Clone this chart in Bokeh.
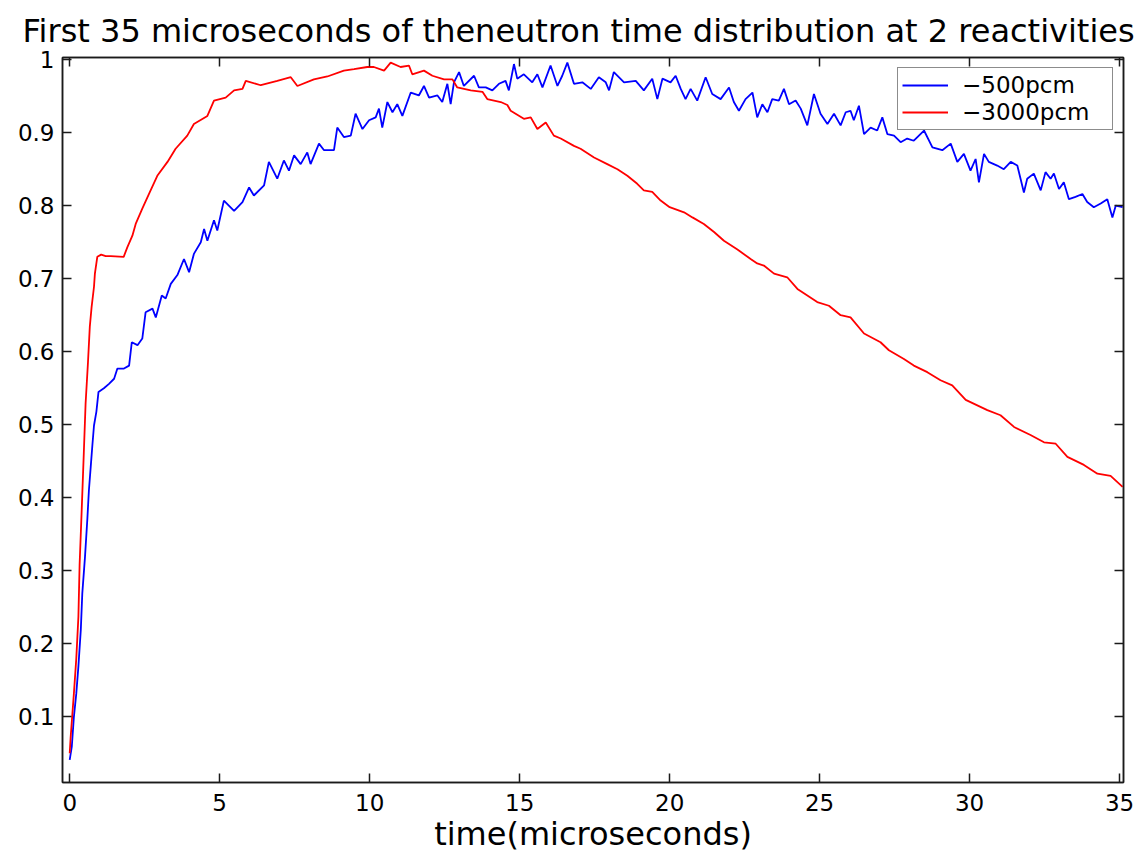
from bokeh.plotting import figure
from bokeh.models import (Range1d, FixedTicker, LinearAxis, CustomJSTickFormatter,
                          Legend, LegendItem)
from bokeh.embed import file_html
from bokeh.resources import INLINE

# ---------------- data ----------------
title_text = "First 35 microseconds of theneutron time distribution at 2 reactivities"
x_label = "time(microseconds)"
series_labels = ["\u2212500pcm", "\u22123000pcm"]
x_ticks = [0, 5, 10, 15, 20, 25, 30, 35]
y_ticks = [0.1, 0.2, 0.3, 0.4, 0.5, 0.6, 0.7, 0.8, 0.9, 1.0]

t_500 = [0.00, 0.07, 0.14, 0.22, 0.29, 0.37, 0.42, 0.51, 0.59, 0.64, 0.70, 0.76, 0.81, 0.89, 0.96,
         1.14, 1.31, 1.48, 1.59, 1.81, 1.98, 2.07, 2.26, 2.42, 2.53, 2.76, 2.87, 3.07, 3.20, 3.37,
         3.59, 3.81, 3.98, 4.14, 4.37, 4.48, 4.59, 4.81, 4.92, 5.14, 5.48, 5.76, 5.98, 6.14, 6.48,
         6.64, 6.92, 7.14, 7.31, 7.48, 7.70, 7.92, 8.03, 8.31, 8.48, 8.81, 8.92, 9.14, 9.37, 9.53,
         9.76, 9.98, 10.20, 10.31, 10.42, 10.59, 10.76, 10.92, 11.09, 11.37, 11.64, 11.81, 11.98,
         12.26, 12.42, 12.59, 12.70, 12.81, 12.98, 13.14, 13.48, 13.64, 13.87, 14.09, 14.31, 14.53,
         14.64, 14.81, 14.92, 15.14, 15.42, 15.59, 15.76, 16.03, 16.26, 16.42, 16.59, 16.81, 17.09,
         17.37, 17.64, 17.87, 17.98, 18.14, 18.48, 18.87, 19.14, 19.42, 19.59, 19.76, 20.03, 20.20,
         20.37, 20.53, 20.70, 20.92, 21.20, 21.42, 21.70, 21.98, 22.14, 22.31, 22.53, 22.76, 22.92,
         23.09, 23.26, 23.42, 23.64, 23.81, 23.98, 24.20, 24.37, 24.59, 24.81, 25.03, 25.26, 25.48,
         25.70, 25.87, 26.03, 26.14, 26.31, 26.48, 26.70, 26.92, 27.09, 27.26, 27.48, 27.70, 27.92,
         28.14, 28.31, 28.48, 28.76, 29.09, 29.37, 29.59, 29.81, 30.03, 30.20, 30.31, 30.48, 30.64,
         30.92, 31.14, 31.37, 31.59, 31.81, 31.92, 32.14, 32.37, 32.53, 32.70, 32.81, 32.98, 33.14,
         33.31, 33.53, 33.76, 33.92, 34.14, 34.37, 34.59, 34.76, 34.87, 35.10]
v_500 = [0.041, 0.059, 0.100, 0.132, 0.169, 0.219, 0.269, 0.319, 0.372, 0.410, 0.442, 0.474, 0.499, 0.518, 0.545,
         0.550, 0.556, 0.563, 0.577, 0.577, 0.581, 0.613, 0.609, 0.618, 0.654, 0.659, 0.647, 0.677, 0.673, 0.693,
         0.705, 0.727, 0.709, 0.734, 0.750, 0.768, 0.752, 0.780, 0.766, 0.807, 0.793, 0.805, 0.825, 0.814, 0.828,
         0.860, 0.837, 0.862, 0.848, 0.869, 0.857, 0.873, 0.857, 0.885, 0.876, 0.876, 0.907, 0.894, 0.896, 0.926,
         0.905, 0.917, 0.921, 0.933, 0.907, 0.942, 0.928, 0.939, 0.923, 0.955, 0.951, 0.964, 0.948,
         0.951, 0.942, 0.967, 0.939, 0.969, 0.983, 0.964, 0.978, 0.962, 0.962, 0.958, 0.967, 0.971,
         0.958, 0.994, 0.974, 0.980, 0.969, 0.980, 0.962, 0.992, 0.964, 0.978, 0.996, 0.967, 0.969,
         0.960, 0.976, 0.969, 0.958, 0.983, 0.969, 0.971, 0.958, 0.974, 0.946, 0.974, 0.969, 0.978,
         0.960, 0.946, 0.960, 0.944, 0.976, 0.953, 0.946, 0.962, 0.942, 0.930, 0.946, 0.955, 0.921,
         0.939, 0.928, 0.946, 0.944, 0.960, 0.939, 0.944, 0.933, 0.910, 0.953, 0.926, 0.912, 0.926,
         0.910, 0.928, 0.930, 0.917, 0.937, 0.898, 0.907, 0.903, 0.921, 0.898, 0.896, 0.887, 0.892,
         0.889, 0.896, 0.903, 0.880, 0.876, 0.885, 0.860, 0.871, 0.848, 0.864, 0.832, 0.871, 0.860,
         0.855, 0.850, 0.860, 0.855, 0.818, 0.837, 0.844, 0.821, 0.846, 0.837, 0.844, 0.823, 0.832,
         0.809, 0.812, 0.816, 0.805, 0.798, 0.803, 0.809, 0.784, 0.800, 0.798]

t_3000 = [0.00, 0.03, 0.14, 0.22, 0.29, 0.33, 0.40, 0.47, 0.53, 0.61, 0.67, 0.73, 0.81, 0.84, 0.92,
          1.05, 1.20, 1.37, 1.80, 1.92, 2.09, 2.20, 2.42, 2.64, 2.92, 3.26, 3.53, 3.92, 4.14, 4.59,
          4.81, 5.20, 5.48, 5.76, 5.87, 6.37, 6.92, 7.37, 7.59, 8.14, 8.59, 9.14, 9.48, 9.92, 10.14,
          10.48, 10.70, 11.03, 11.31, 11.42, 11.81, 12.09, 12.48, 12.76, 12.92, 13.37, 13.76, 13.92,
          14.37, 14.59, 14.70, 15.14, 15.37, 15.59, 15.87, 16.14, 16.37, 16.81, 17.03, 17.48, 17.92,
          18.26, 18.59, 18.92, 19.14, 19.42, 19.70, 20.00, 20.48, 20.76, 21.14, 21.48, 21.81, 22.26,
          22.70, 22.92, 23.14, 23.48, 23.92, 24.26, 24.92, 25.31, 25.70, 26.03, 26.48, 27.03, 27.31,
          27.81, 28.14, 28.59, 29.03, 29.42, 29.87, 30.59, 31.03, 31.48, 32.03, 32.48, 32.87, 33.26,
          33.81, 34.26, 34.70, 35.10]
v_3000 = [0.050, 0.071, 0.132, 0.180, 0.237, 0.308, 0.383, 0.461, 0.529, 0.586, 0.634, 0.661, 0.689, 0.707, 0.730,
          0.733, 0.731, 0.731, 0.730, 0.743, 0.759, 0.775, 0.796, 0.816, 0.841, 0.860, 0.878, 0.896, 0.912, 0.923,
          0.944, 0.948, 0.958, 0.960, 0.971, 0.965, 0.971, 0.976, 0.964, 0.973, 0.977, 0.985, 0.987, 0.990, 0.990,
          0.985, 0.996, 0.990, 0.992, 0.980, 0.985, 0.978, 0.973, 0.973, 0.962, 0.958, 0.956, 0.946,
          0.942, 0.938, 0.930, 0.919, 0.921, 0.905, 0.914, 0.896, 0.892, 0.882, 0.878, 0.866, 0.857,
          0.850, 0.841, 0.830, 0.821, 0.819, 0.807, 0.798, 0.791, 0.784, 0.775, 0.764, 0.752, 0.740,
          0.727, 0.721, 0.718, 0.707, 0.702, 0.686, 0.668, 0.663, 0.650, 0.647, 0.625, 0.613, 0.602,
          0.590, 0.581, 0.572, 0.561, 0.554, 0.534, 0.520, 0.513, 0.497, 0.486, 0.476, 0.474, 0.456,
          0.445, 0.433, 0.430, 0.415]

# ---------------- figure ----------------
FONT = "DejaVu Sans"
AXIS_COLOR = "#1a1a1a"

p = figure(width=1140, height=855, output_backend="svg", toolbar_location=None,
           x_range=Range1d(-0.24, 35.13), y_range=Range1d(0.01, 1.003),
           min_border_left=62, min_border_right=17, min_border_top=57, min_border_bottom=68,
           background_fill_color="white", border_fill_color="white")

p.title.text = title_text
p.title.text_font = FONT
p.title.text_font_size = "32px"
p.title.text_font_style = "normal"
p.title.text_color = "black"
p.title.align = "left"
p.title.offset = -40
p.title.standoff = 16

p.xgrid.visible = False
p.ygrid.visible = False
p.outline_line_color = AXIS_COLOR
p.outline_line_width = 1.5

fmt = "return (Math.round(tick*10)/10).toString();"

for ax, ticks in ((p.xaxis[0], x_ticks), (p.yaxis[0], y_ticks)):
    ax.ticker = FixedTicker(ticks=ticks)
    ax.formatter = CustomJSTickFormatter(code=fmt)
    ax.major_tick_in = 9
    ax.major_tick_out = 0
    ax.minor_tick_in = 0
    ax.minor_tick_out = 0
    ax.axis_line_color = AXIS_COLOR
    ax.axis_line_width = 1.5
    ax.major_tick_line_color = AXIS_COLOR
    ax.major_tick_line_width = 1.5
    ax.major_label_text_font = FONT
    ax.major_label_text_font_size = "23px"
    ax.major_label_text_color = "black"

p.yaxis[0].major_label_standoff = 8
p.xaxis[0].major_label_standoff = 11
p.xaxis[0].axis_label = x_label
p.xaxis[0].axis_label_text_font = FONT
p.xaxis[0].axis_label_text_font_size = "32px"
p.xaxis[0].axis_label_text_font_style = "normal"
p.xaxis[0].axis_label_text_color = "black"
p.xaxis[0].axis_label_standoff = 1

for ticks, side in ((x_ticks, "above"), (y_ticks, "right")):
    ax = LinearAxis(ticker=FixedTicker(ticks=ticks), major_label_text_font_size="0px",
                    major_label_standoff=0, major_tick_in=9, major_tick_out=0,
                    minor_tick_in=0, minor_tick_out=0, axis_line_color=AXIS_COLOR,
                    axis_line_width=1.5, major_tick_line_color=AXIS_COLOR,
                    major_tick_line_width=1.5, major_label_text_color=None)
    p.add_layout(ax, side)

r_blue = p.line(t_500, v_500, line_color="#0000ff", line_width=1.8)
r_red = p.line(t_3000, v_3000, line_color="#ff0000", line_width=1.8)

legend = Legend(items=[LegendItem(label=series_labels[0], renderers=[r_blue]),
                       LegendItem(label=series_labels[1], renderers=[r_red])],
                location="top_right", margin=10, padding=4, spacing=1,
                glyph_width=46, glyph_height=24, label_height=24, label_width=146,
                label_standoff=14, label_text_font=FONT, label_text_font_size="23px",
                label_text_color="black", border_line_color=AXIS_COLOR, border_line_width=1.5,
                background_fill_color="white", background_fill_alpha=1.0)
p.add_layout(legend)

open("out.html", "w").write(file_html(p, INLINE))
